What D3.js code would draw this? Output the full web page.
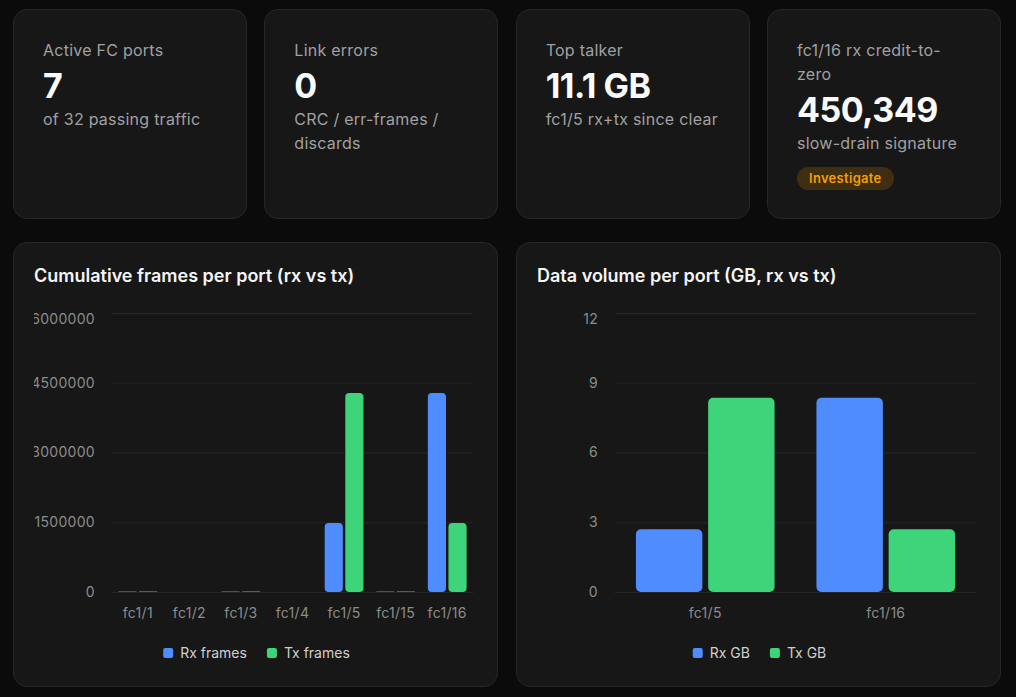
<!DOCTYPE html>
<html>
<head>
<meta charset="utf-8">
<script src="https://cdn.jsdelivr.net/npm/d3@7"></script>
<style>
  body { margin: 0; background: #0b0b0b; font-family: Inter, "Noto Sans", sans-serif; width: 1016px; height: 697px; overflow: hidden; }
  .kpis { position: absolute; left: 13px; top: 9px; width: 988px; display: grid; grid-template-columns: repeat(4, 1fr); gap: 17.33px; }
  .card { background: #171717; border: 1px solid #272727; border-radius: 14px; box-sizing: border-box; }
  .kpi { height: 210px; padding: 28px 30px 28px 29px; }
  .kpi .label { font-size: 16px; line-height: 24px; color: #a1a1a1; letter-spacing: 0.25px; }
  .kpi .value { font-size: 34px; line-height: 40px; font-weight: 700; color: #fafafa; margin-top: 4px; letter-spacing: -0.5px; }
  .kpi .sub { font-size: 16px; line-height: 24px; color: #a1a1a1; letter-spacing: 0.25px; margin-top: 1px; }
  .kpi .badge { display: inline-block; margin-top: 12px; height: 23px; line-height: 23px; padding: 0 12px; border-radius: 12px; background: #3f2e10; color: #f59e0b; font-size: 13px; font-weight: 600; letter-spacing: 0.3px; }
  .charts { position: absolute; left: 13px; top: 242px; width: 988px; display: grid; grid-template-columns: 1fr 1fr; gap: 18px; }
  .chart { height: 445px; position: relative; }
  .chart svg { position: absolute; left: 0; top: 0; }
</style>
</head>
<body>
<div class="kpis" id="kpis"></div>
<div class="charts">
  <div class="card chart"><svg id="frames" width="485" height="445"></svg></div>
  <div class="card chart"><svg id="volume" width="485" height="445"></svg></div>
</div>
<script>
// KPI tiles
let kpiLabels = ['Active FC ports', 'Link errors', 'Top talker', 'fc1/16 rx credit-to-zero'];
let kpiValues = ['7', '0', '11.1 GB', '450,349'];
let kpiSubs = ['of 32 passing traffic', 'CRC / err-frames / discards', 'fc1/5 rx+tx since clear', 'slow-drain signature'];
let kpiBadges = [null, null, null, 'Investigate'];

// frames chart
let framePorts = ['fc1/1', 'fc1/2', 'fc1/3', 'fc1/4', 'fc1/5', 'fc1/15', 'fc1/16'];
let rxFrames = [12000, 0, 12000, 0, 1485000, 12000, 4280000];
let txFrames = [12000, 0, 12000, 0, 4280000, 12000, 1485000];
let frameTicks = [0, 1500000, 3000000, 4500000, 6000000];

// volume chart
let volumePorts = ['fc1/5', 'fc1/16'];
let rxGB = [2.7, 8.35];
let txGB = [8.35, 2.7];
let volumeTicks = [0, 3, 6, 9, 12];

let blue = '#4f8dff';
let green = '#3ed47a';

let tiles = d3.select('#kpis').selectAll('.kpi').data(kpiLabels).enter().append('div').attr('class', 'card kpi');
tiles.append('div').attr('class', 'label').text((d) => d);
tiles.append('div').attr('class', 'value').text((d, i) => kpiValues[i]);
tiles.append('div').attr('class', 'sub').text((d, i) => kpiSubs[i]);
tiles.filter((d, i) => kpiBadges[i]).append('div').attr('class', 'badge').text('Investigate');

groupedBars('#frames', 'Cumulative frames per port (rx vs tx)', framePorts, [rxFrames, txFrames], ['Rx frames', 'Tx frames'], frameTicks, 0.88, 4);
groupedBars('#volume', 'Data volume per port (GB, rx vs tx)', volumePorts, [rxGB, txGB], ['Rx GB', 'Tx GB'], volumeTicks, 0.92, 5);

function groupedBars(id, title, cats, series, names, ticks, barPct, radius){
	let svg = d3.select(id);
	let left = 98, right = 459, top = 70, bottom = 349;
	let colors = [blue, green];

	svg.append('text').attr('x', 20).attr('y', 33).attr('dy', '0.35em')
		.attr('fill', '#f5f5f5').style('font-size', '18px').style('font-weight', 600).text(title);

	let y = d3.scaleLinear().domain([0, d3.max(ticks)]).range([bottom, top]);
	let x0 = d3.scaleBand().domain(cats).range([left, right]).paddingInner(0.2).paddingOuter(0.1);
	let x1 = d3.scaleBand().domain(d3.range(series.length)).range([0, x0.bandwidth()]);

	// gridlines + y labels (labels clipped at the card's inner edge)
	svg.append('clipPath').attr('id', id.slice(1) + '-clip').append('rect').attr('x', 20 - left).attr('y', 0).attr('width', 465).attr('height', 445);
	let yAxis = d3.axisLeft(y).tickValues(ticks).tickFormat(d3.format('d')).tickSize(-(right - left)).tickPadding(17);
	let gy = svg.append('g').attr('transform', 'translate(' + left + ',0)').attr('clip-path', 'url(' + id + '-clip)').call(yAxis);
	gy.select('.domain').remove();
	gy.selectAll('line').attr('stroke', '#262626');
	gy.selectAll('text').attr('fill', '#8c8c8c').style('font-size', '14px').style('letter-spacing', '0.3px').style('font-family', 'Inter, sans-serif');
	// top label is pushed down to stay inside the plot
	gy.selectAll('.tick').filter((d) => d === d3.max(ticks)).select('text').attr('dy', '0.75em');

	// x labels
	let xAxis = d3.axisBottom(x0).tickSize(0).tickPadding(0);
	let gx = svg.append('g').attr('transform', 'translate(0,' + 370 + ')').call(xAxis);
	gx.select('.domain').remove();
	gx.selectAll('text').attr('dy', '0.35em').attr('fill', '#8c8c8c').style('font-size', '14px').style('letter-spacing', '0.3px').style('font-family', 'Inter, sans-serif');

	// bars
	let groups = svg.selectAll('.grp').data(cats).enter().append('g').attr('transform', (d) => 'translate(' + x0(d) + ',0)');
	series.forEach((s, k) => {
		let w = x1.bandwidth() * barPct;
		groups.append('rect')
			.attr('x', x1(k) + (x1.bandwidth() - w) / 2)
			.attr('y', (d, i) => y(s[i]))
			.attr('width', w)
			.attr('height', (d, i) => bottom - y(s[i]))
			.attr('rx', (d, i) => Math.min(radius, (bottom - y(s[i])) / 2))
			.attr('fill', colors[k]);
	});

	// legend
	let lg = svg.append('g');
	let xPos = 0;
	names.forEach((n, k) => {
		let item = lg.append('g').attr('transform', 'translate(' + xPos + ',0)');
		item.append('rect').attr('x', 0).attr('y', -5).attr('width', 10).attr('height', 10).attr('rx', 2).attr('fill', colors[k]);
		let t = item.append('text').attr('x', 17).attr('dy', '0.35em').attr('fill', '#d0d0d0').style('font-size', '14px').text(n);
		xPos += 17 + t.node().getComputedTextLength() + 20;
	});
	let total = xPos - 20;
	lg.attr('transform', 'translate(' + (242.5 - total / 2) + ',' + 410 + ')');
}
</script>
</body>
</html>
